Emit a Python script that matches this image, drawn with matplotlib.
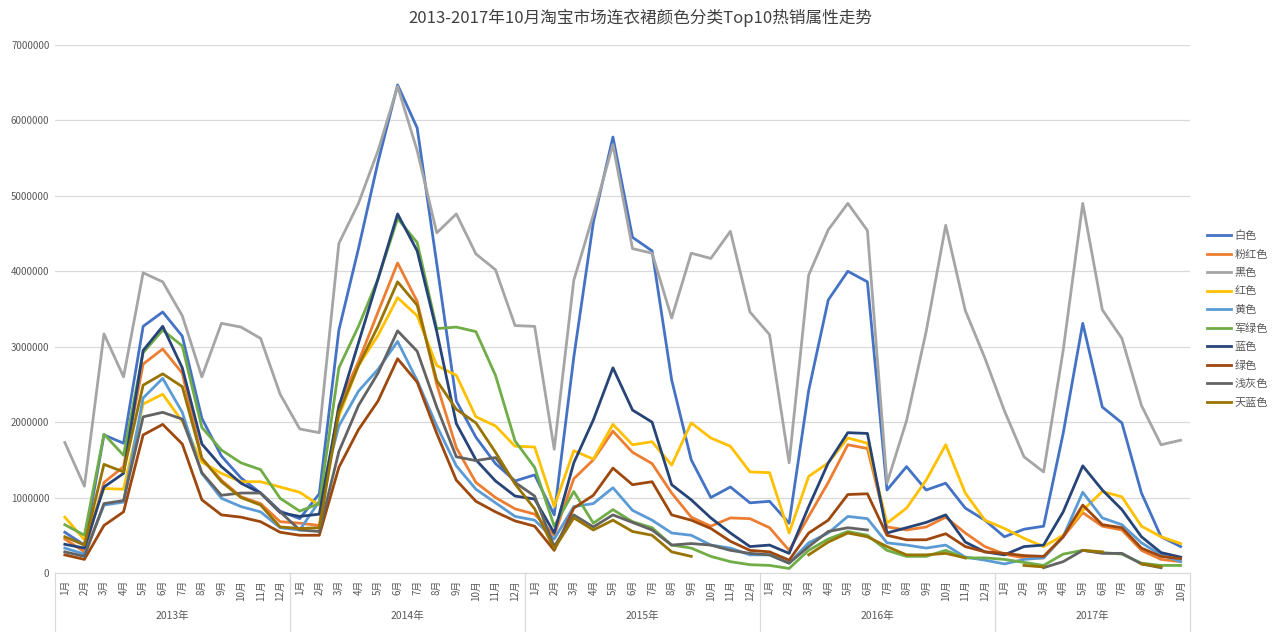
import numpy as np
import matplotlib
matplotlib.use('Agg')
import matplotlib.pyplot as plt
import matplotlib.transforms as mtransforms

plt.rcParams['font.family'] = ['Noto Sans CJK SC', 'DejaVu Sans']

nan = np.nan
years = ['2013年', '2014年', '2015年', '2016年', '2017年']
months_per_year = [12, 12, 12, 12, 10]

# values in millions, 2013-01 .. 2017-10
white = [0.54, 0.37, 1.83, 1.72, 3.27, 3.46, 3.14, 2.05, 1.55, 1.26, 1.06, 0.82,
         0.72, 1.05, 3.22, 4.30, 5.45, 6.47, 5.90, 4.10, 2.28, 1.80, 1.45, 1.22,
         1.30, 0.77, 2.86, 4.65, 5.78, 4.45, 4.27, 2.56, 1.50, 1.00, 1.14, 0.93,
         0.95, 0.66, 2.42, 3.62, 4.00, 3.86, 1.10, 1.41, 1.10, 1.19, 0.86, 0.70,
         0.48, 0.58, 0.62, 1.85, 3.31, 2.20, 1.99, 1.06, 0.48, 0.35]
pink = [0.45, 0.28, 1.20, 1.41, 2.77, 2.97, 2.65, 1.52, 1.23, 1.01, 0.92, 0.68,
        0.66, 0.63, 2.23, 2.80, 3.46, 4.11, 3.60, 2.50, 1.66, 1.20, 1.00, 0.85,
        0.78, 0.50, 1.25, 1.50, 1.88, 1.60, 1.45, 1.06, 0.74, 0.62, 0.73, 0.72,
        0.60, 0.30, 0.75, 1.20, 1.70, 1.65, 0.61, 0.57, 0.61, 0.74, 0.53, 0.35,
        0.25, 0.20, 0.20, 0.48, 0.80, 0.62, 0.57, 0.30, 0.18, 0.15]
black = [1.73, 1.15, 3.17, 2.60, 3.98, 3.86, 3.41, 2.60, 3.31, 3.26, 3.11, 2.37,
         1.91, 1.86, 4.37, 4.90, 5.60, 6.45, 5.60, 4.51, 4.76, 4.23, 4.02, 3.28,
         3.27, 1.64, 3.88, 4.75, 5.68, 4.30, 4.24, 3.38, 4.24, 4.17, 4.53, 3.46,
         3.16, 1.46, 3.95, 4.55, 4.90, 4.54, 1.19, 2.02, 3.20, 4.61, 3.48, 2.85,
         2.15, 1.54, 1.34, 2.95, 4.90, 3.49, 3.11, 2.22, 1.70, 1.76]
red = [0.74, 0.44, 1.12, 1.11, 2.24, 2.37, 2.01, 1.47, 1.32, 1.21, 1.21, 1.14,
       1.07, 0.90, 2.08, 2.75, 3.15, 3.65, 3.41, 2.75, 2.62, 2.07, 1.95, 1.68,
       1.67, 0.88, 1.62, 1.51, 1.97, 1.70, 1.74, 1.43, 1.99, 1.79, 1.68, 1.34,
       1.33, 0.53, 1.28, 1.46, 1.79, 1.72, 0.66, 0.86, 1.23, 1.70, 1.06, 0.70,
       0.59, 0.46, 0.35, 0.50, 0.83, 1.08, 1.01, 0.62, 0.48, 0.39]
yellow = [0.33, 0.25, 0.90, 0.94, 2.32, 2.58, 2.13, 1.32, 0.99, 0.88, 0.81, 0.60,
          0.57, 0.95, 1.95, 2.41, 2.70, 3.07, 2.55, 1.95, 1.42, 1.11, 0.93, 0.75,
          0.70, 0.45, 0.88, 0.92, 1.13, 0.83, 0.70, 0.53, 0.50, 0.37, 0.33, 0.24,
          0.24, 0.13, 0.40, 0.53, 0.75, 0.72, 0.40, 0.37, 0.33, 0.37, 0.21, 0.17,
          0.12, 0.18, 0.20, 0.48, 1.07, 0.73, 0.64, 0.40, 0.24, 0.15]
army_green = [0.64, 0.50, 1.84, 1.56, 2.92, 3.22, 3.01, 1.93, 1.63, 1.46, 1.37, 0.99,
              0.82, 0.92, 2.72, 3.27, 3.90, 4.70, 4.38, 3.24, 3.26, 3.20, 2.62, 1.75,
              1.40, 0.62, 1.08, 0.66, 0.84, 0.68, 0.60, 0.37, 0.33, 0.22, 0.15, 0.11,
              0.10, 0.06, 0.30, 0.45, 0.55, 0.50, 0.30, 0.22, 0.22, 0.30, 0.20, 0.20,
              0.18, 0.14, 0.10, 0.25, 0.30, 0.27, 0.25, 0.13, 0.10, 0.10]
blue = [0.38, 0.33, 1.14, 1.32, 2.95, 3.27, 2.72, 1.71, 1.41, 1.19, 1.06, 0.80,
        0.75, 0.78, 2.20, 3.05, 3.90, 4.76, 4.27, 3.20, 1.98, 1.50, 1.22, 1.02,
        0.98, 0.53, 1.46, 2.03, 2.72, 2.16, 2.00, 1.17, 0.97, 0.73, 0.53, 0.35,
        0.37, 0.26, 0.88, 1.46, 1.86, 1.85, 0.53, 0.60, 0.67, 0.77, 0.41, 0.28,
        0.24, 0.35, 0.37, 0.81, 1.42, 1.10, 0.84, 0.48, 0.27, 0.21]
green = [0.24, 0.18, 0.63, 0.81, 1.83, 1.97, 1.71, 0.97, 0.77, 0.74, 0.68, 0.54,
         0.50, 0.50, 1.40, 1.90, 2.28, 2.84, 2.53, 1.85, 1.23, 0.95, 0.81, 0.69,
         0.62, 0.30, 0.86, 1.03, 1.39, 1.17, 1.21, 0.77, 0.70, 0.59, 0.42, 0.30,
         0.28, 0.17, 0.53, 0.70, 1.04, 1.05, 0.50, 0.44, 0.44, 0.52, 0.35, 0.28,
         0.26, 0.23, 0.22, 0.48, 0.90, 0.64, 0.60, 0.33, 0.22, 0.19]
light_gray = [0.28, 0.22, 0.92, 0.96, 2.07, 2.13, 2.04, 1.33, 1.03, 1.06, 1.06, 0.81,
              0.57, 0.55, 1.61, 2.22, 2.65, 3.21, 2.94, 2.20, 1.54, 1.49, 1.53, 1.20,
              1.02, 0.35, 0.77, 0.61, 0.77, 0.67, 0.57, 0.37, 0.39, 0.37, 0.30, 0.26,
              0.24, 0.13, 0.35, 0.55, 0.60, 0.57, nan, nan, nan, nan, nan, nan,
              nan, nan, 0.07, 0.15, 0.30, 0.26, 0.26, 0.12, 0.07, nan]
sky_blue = [0.48, 0.37, 1.44, 1.34, 2.49, 2.64, 2.47, 1.52, 1.21, 1.00, 0.90, 0.61,
            0.59, 0.60, 2.13, 2.75, 3.27, 3.86, 3.55, 2.55, 2.17, 1.99, 1.60, 1.18,
            0.85, 0.32, 0.73, 0.57, 0.70, 0.55, 0.50, 0.28, 0.22, nan, nan, nan,
            nan, nan, 0.24, 0.41, 0.53, 0.48, 0.35, 0.24, 0.24, 0.26, 0.20, nan,
            nan, 0.10, 0.08, nan, 0.30, 0.28, nan, 0.12, 0.08, nan]

series = [('白色', white, '#4472C4'), ('粉红色', pink, '#ED7D31'),
          ('黑色', black, '#A5A5A5'), ('红色', red, '#FFC000'),
          ('黄色', yellow, '#5B9BD5'), ('军绿色', army_green, '#70AD47'),
          ('蓝色', blue, '#264478'), ('绿色', green, '#9E480E'),
          ('浅灰色', light_gray, '#636363'), ('天蓝色', sky_blue, '#997300')]

month_labels = []
for n in months_per_year:
    month_labels += ['%d月' % (m + 1) for m in range(n)]
x = np.arange(len(month_labels))

fig = plt.figure(figsize=(12.8, 6.32), dpi=100)
ax = fig.add_axes([0.043, 0.0934, 0.887, 0.8354])

for name, vals, color in series:
    ax.plot(x, np.array(vals) * 1e6, color=color, lw=2.0, label=name)

ax.set_xlim(-0.5, len(x) - 0.5)
ax.set_ylim(0, 7e6)
ax.set_yticks(np.arange(0, 7e6 + 1, 1e6))
ax.set_yticklabels(['%d' % v for v in np.arange(0, 7e6 + 1, 1e6)])
ax.yaxis.grid(True, color='#D9D9D9', lw=0.9)
ax.set_axisbelow(True)
for s in ['top', 'right', 'left']:
    ax.spines[s].set_visible(False)
ax.spines['bottom'].set_color('#D9D9D9')
ax.tick_params(axis='y', length=0, labelsize=7, labelcolor='#595959', pad=4)
ax.set_xticks(x)
ax.set_xticklabels(month_labels, rotation=90, fontsize=7, color='#595959')
ax.tick_params(axis='x', length=0, pad=5)

# year groups under the month labels
trans = mtransforms.blended_transform_factory(ax.transData, ax.transAxes)
edges = np.concatenate([[0], np.cumsum(months_per_year)]) - 0.5
for e in edges:
    ax.plot([e, e], [0, -0.115], color='#D9D9D9', lw=0.9, transform=trans, clip_on=False)
for i, yr in enumerate(years):
    ax.text((edges[i] + edges[i + 1]) / 2, -0.082, yr, transform=trans,
            ha='center', va='center', fontsize=7.5, color='#595959')

fig.text(0.5, 0.972, '2013-2017年10月淘宝市场连衣裙颜色分类Top10热销属性走势',
         ha='center', va='center', fontsize=12, color='#404040')

fig.legend(loc='center left', bbox_to_anchor=(0.935, 0.495), frameon=False,
           fontsize=8, handlelength=2.2, labelspacing=0.75, handletextpad=0.3,
           labelcolor='#595959')

fig.savefig('out.png', dpi=100)
